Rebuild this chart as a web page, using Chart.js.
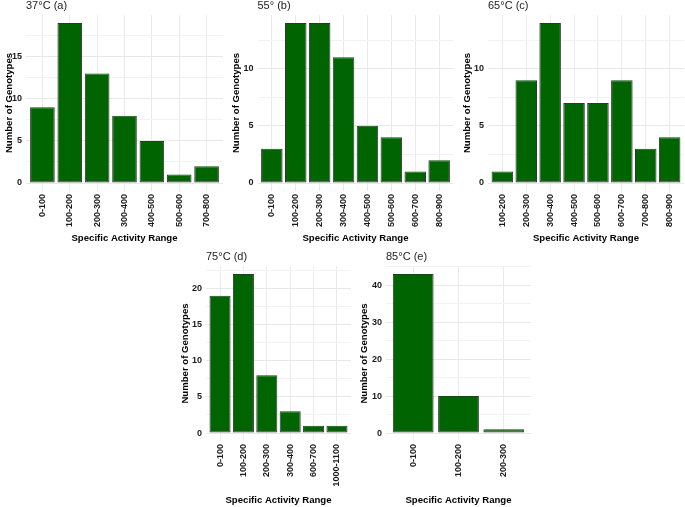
<!DOCTYPE html>
<html>
<head>
<meta charset="utf-8">
<script src="https://cdn.jsdelivr.net/npm/chart.js@4"></script>
<style>
  body { margin: 0; background: #fff; width: 685px; height: 507px; position: relative; overflow: hidden; }
  canvas { position: absolute; }
</style>
</head>
<body>
<canvas id="chartA"></canvas>
<canvas id="chartB"></canvas>
<canvas id="chartC"></canvas>
<canvas id="chartD"></canvas>
<canvas id="chartE"></canvas>
<script>
// Data per panel (counts of genotypes per specific activity range)
const catsA = ['0-100', '100-200', '200-300', '300-400', '400-500', '500-600', '700-800'];
const countsA = [9, 19, 13, 8, 5, 1, 2];

const catsB = ['0-100', '100-200', '200-300', '300-400', '400-500', '500-600', '600-700', '800-900'];
const countsB = [3, 14, 14, 11, 5, 4, 1, 2];

const catsC = ['100-200', '200-300', '300-400', '400-500', '500-600', '600-700', '700-800', '800-900'];
const countsC = [1, 9, 14, 7, 7, 9, 3, 4];

const catsD = ['0-100', '100-200', '200-300', '300-400', '600-700', '1000-1100'];
const countsD = [19, 22, 8, 3, 1, 1];

const catsE = ['0-100', '100-200', '200-300'];
const countsE = [43, 10, 1];

const yStepA = 5, yStepB = 5, yStepC = 5, yStepD = 5, yStepE = 10;

Chart.defaults.font.family = '"Liberation Sans", Arial, sans-serif';

// panel title drawn at the left of the plot panel
const panelTitle = {
    id: 'panelTitle',
    afterDraw(chart, args, opts) {
        const c = chart.ctx;
        c.save();
        c.font = '11px "Liberation Sans", Arial, sans-serif';
        c.fillStyle = '#222';
        c.textBaseline = 'middle';
        c.textAlign = 'left';
        c.fillText(opts.text, chart.chartArea.left, opts.y);
        c.restore();
    }
};

function makePanel(id, title, cats, counts, step, g) {
    const canvas = document.getElementById(id);
    canvas.width = g.w;
    canvas.height = g.h;
    canvas.style.left = g.x + 'px';
    canvas.style.top = g.y + 'px';

    const top = Math.max(...counts);
    const yMin = -0.05 * top, yMax = 1.05 * top;
    const yTicks = [];
    for (let v = 0; v <= yMax; v += step / 2) yTicks.push(v);

    const titleFont = { size: 9.6, weight: 'bold' };
    const half = 9.6 * 1.2 / 2;

    new Chart(canvas, {
        type: 'bar',
        data: {
            datasets: [{
                data: counts.map((c, i) => ({ x: i + 1, y: c })),
                backgroundColor: '#006400',
                borderColor: '#333333',
                borderWidth: 1,
                borderSkipped: false,
                barPercentage: 0.9,
                categoryPercentage: 1
            }]
        },
        options: {
            responsive: false,
            animation: false,
            devicePixelRatio: 1,
            layout: {
                autoPadding: false,
                padding: { top: g.plotT, right: g.w - g.plotR, bottom: 0, left: 0 }
            },
            plugins: {
                legend: { display: false },
                tooltip: { enabled: false },
                panelTitle: { text: title, y: g.titleY }
            },
            scales: {
                x: {
                    type: 'linear',
                    min: 0.4,
                    max: cats.length + 0.6,
                    bounds: 'data',
                    offset: false,
                    afterBuildTicks: s => { s.ticks = cats.map((c, i) => ({ value: i + 1 })); },
                    afterFit: s => { s.height = g.h - g.plotB; },
                    grid: { color: '#ebebeb', drawTicks: false, offset: false },
                    border: { display: false },
                    ticks: {
                        autoSkip: false,
                        minRotation: 90,
                        maxRotation: 90,
                        padding: 3,
                        color: '#1a1a1a',
                        font: { size: 9, weight: 'bold' },
                        callback: v => cats[v - 1]
                    },
                    title: {
                        display: true,
                        text: 'Specific Activity Range',
                        color: '#000',
                        font: titleFont,
                        padding: { top: 0, bottom: g.h - g.xTitleY - half }
                    }
                },
                y: {
                    min: yMin,
                    max: yMax,
                    bounds: 'data',
                    afterBuildTicks: s => { s.ticks = yTicks.map(v => ({ value: v })); },
                    afterFit: s => { s.width = g.plotL; },
                    grid: {
                        drawTicks: false,
                        color: ctx => (ctx.tick && ctx.tick.value % step === 0) ? '#e8e8e8' : '#f2f2f2'
                    },
                    border: { display: false },
                    ticks: {
                        padding: 4,
                        color: '#1a1a1a',
                        font: { size: 9, weight: 'bold' },
                        callback: v => (v % step === 0 ? v : '')
                    },
                    title: {
                        display: true,
                        text: 'Number of Genotypes',
                        color: '#000',
                        font: titleFont,
                        padding: { top: g.yTitleX - half, bottom: 0 }
                    }
                }
            }
        },
        plugins: [panelTitle]
    });
}

// canvas placement and plot-panel geometry (canvas-relative)
makePanel('chartA', '37°C (a)', catsA, countsA, yStepA,
    { x: 0, y: 0, w: 226, h: 246, plotL: 26, plotT: 15, plotR: 223, plotB: 191, yTitleX: 9, xTitleY: 238, titleY: 6 });
makePanel('chartB', '55° (b)', catsB, countsB, yStepB,
    { x: 228, y: 0, w: 228, h: 246, plotL: 29.5, plotT: 15, plotR: 225.5, plotB: 191, yTitleX: 8, xTitleY: 238, titleY: 6 });
makePanel('chartC', '65°C (c)', catsC, countsC, yStepC,
    { x: 459, y: 0, w: 226, h: 246, plotL: 29, plotT: 15, plotR: 225, plotB: 191, yTitleX: 8, xTitleY: 238, titleY: 6 });
makePanel('chartD', '75°C (d)', catsD, countsD, yStepD,
    { x: 170, y: 250, w: 183, h: 257, plotL: 36, plotT: 16, plotR: 181, plotB: 191, yTitleX: 15, xTitleY: 250, titleY: 7 });
makePanel('chartE', '85°C (e)', catsE, countsE, yStepE,
    { x: 355, y: 250, w: 178, h: 257, plotL: 31, plotT: 16, plotR: 176, plotB: 191, yTitleX: 9, xTitleY: 250, titleY: 7 });
</script>
</body>
</html>
